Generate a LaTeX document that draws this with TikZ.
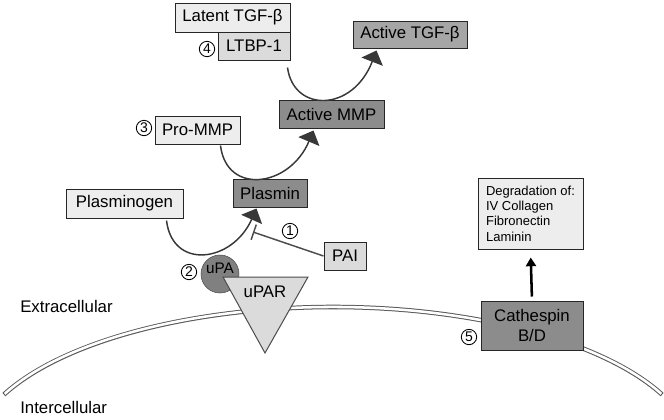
\documentclass[tikz,border=0pt]{standalone}
\usepackage{fontspec}
\setmainfont{Liberation Sans}
\usepackage{xcolor}
\usetikzlibrary{arrows.meta, calc}

\definecolor{palegray}{gray}{0.93}
\definecolor{lightgray}{gray}{0.86}
\definecolor{midgray}{gray}{0.65}
\definecolor{darkgray}{gray}{0.55}
\definecolor{linegray}{gray}{0.22}

\tikzset{
    protein/.style={draw=black!85, line width=0.75pt, inner sep=0pt, font=\fontsize{12.6}{15}\selectfont},
    convert/.style={draw=linegray, line width=1.1pt, -{Triangle[length=9pt,width=17pt]}},
    inhibit/.style={draw=black!70, line width=1.1pt, -{Bar[width=12pt,line width=1.1pt]}},
    stepno/.style={circle, draw=black, line width=0.65pt, minimum size=11.5pt, inner sep=0pt, font=\fontsize{10.5}{10.5}\selectfont},
    region/.style={anchor=west, inner sep=0pt, font=\fontsize{12.6}{15}\selectfont}
}

\begin{document}
\begin{tikzpicture}[x=0.75pt, y=-0.75pt]
        \useasboundingbox (0,0) rectangle (664,419);

        % Membrane
        \draw[line width=3.4pt, black!65] (333,457) ++(204.6:362 and 150)
            arc[start angle=204.6, end angle=335.4, x radius=362, y radius=150];
        \draw[line width=1.9pt, white, shorten <=0.8pt, shorten >=0.8pt] (333,457) ++(204.6:362 and 150)
            arc[start angle=204.6, end angle=335.4, x radius=362, y radius=150];
        \node[region] (extra) at (20,306) {Extracellular};
        \node[region] (intra) at (20,407) {Intercellular};

        % Receptor
        \node[circle, draw=black!70, fill=black!50, minimum size=28.5pt, inner sep=0pt] (upa) at (220,274) {};
        \node[font=\fontsize{11.5}{13}\selectfont, inner sep=0pt] (upatext) at ($(upa.center)+(0,-6)$) {uPA};
        \filldraw[draw=black!70, line width=0.75pt, fill=lightgray] (223,277) -- (308,277) -- (265,353) -- cycle; % uPAR
        \node[font=\fontsize{12.6}{15}\selectfont, inner sep=0pt] (upar) at (265,292) {uPAR};

        % Boxes
        \node[protein, fill=palegray, minimum width=86.25pt, minimum height=21.75pt] (latent) at (232.5,17.5) {Latent TGF-β};
        \node[protein, fill=lightgray, minimum width=54pt, minimum height=21pt] (ltbp) at (254,46) {LTBP-1};
        \node[protein, fill=midgray, minimum width=85.5pt, minimum height=20.25pt] (activetgf) at (410,34.5) {Active TGF-β};
        \node[protein, fill=darkgray, minimum width=78.75pt, minimum height=21pt] (activemmp) at (331.5,114) {Active MMP};
        \node[protein, fill=palegray, minimum width=63.75pt, minimum height=21pt] (prommp) at (197.5,130) {Pro-MMP};
        \node[protein, fill=darkgray, minimum width=55.5pt, minimum height=21pt] (plasmin) at (270,193) {Plasmin};
        \node[protein, fill=palegray, minimum width=87.75pt, minimum height=21.75pt] (plasminogen) at (124.5,203.5) {Plasminogen};
        \node[protein, fill=lightgray, minimum width=31.5pt, minimum height=21pt] (pai) at (345,256) {PAI};
        \node[protein, fill=palegray, minimum width=78.75pt, minimum height=53.25pt, align=left,
              font=\fontsize{9.75}{11.5}\selectfont] (degrade) at (530.5,213.5)
              {Degradation of:\\IV Collagen\\Fibronectin\\Laminin};
        \node[protein, fill=darkgray, minimum width=76.5pt, minimum height=36.75pt, align=center] (cathepsin) at (532,325.5) {Cathespin\\B/D};

        % Steps
        \node[stepno] (s1) at (290,231) {1};
        \node[stepno] (s2) at (189,272) {2};
        \node[stepno] (s3) at (144,128) {3};
        \node[stepno] (s4) at (207,49) {4};
        \node[stepno] (s5) at (469,337) {5};

        % Conversions
        \draw[convert] ($(plasminogen.south east)+(-17,2)$) .. controls ($(plasminogen.south east)+(-11,52)$)
            and ($(plasmin.south west)+(0,55)$) .. ($(plasmin.south west)+(24,1)$);
        \draw[convert] ($(prommp.south east)+(-20,1)$) .. controls ($(prommp.south east)+(-14,51)$)
            and ($(activemmp.south west)+(11,59)$) .. ($(activemmp.south west)+(35,2)$);
        \draw[convert] ($(ltbp.south east)+(-3,7)$) .. controls ($(ltbp.south east)+(3,52)$)
            and ($(activetgf.south west)+(0,64)$) .. ($(activetgf.south west)+(24,2)$);

        % Inhibition and degradation
        \coordinate (block) at (253,232);
        \draw[inhibit] (pai.west) -- (block);
        \draw[line width=1.9pt, -{Triangle[length=6.5pt,width=7.5pt]}, shorten <=3pt, shorten >=6pt] (cathepsin.north) -- (degrade.south);
    \end{tikzpicture}
\end{document}
